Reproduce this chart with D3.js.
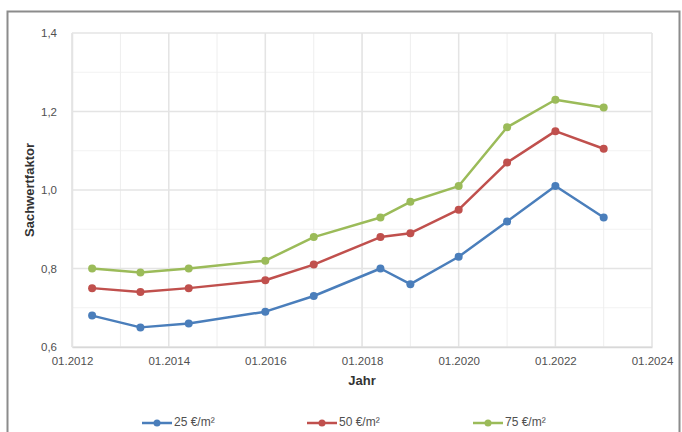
<!DOCTYPE html>
<html>
<head>
<meta charset="utf-8">
<script src="https://cdn.jsdelivr.net/npm/d3@7"></script>
<style>
  html, body { margin: 0; padding: 0; background: #fff; }
  svg { display: block; font-family: "Liberation Sans", Arial, sans-serif; }
</style>
</head>
<body>
<svg id="chart" width="682" height="432"></svg>
<script>
// Survey dates (stichtage) and Sachwertfaktoren per Bodenwertniveau
const dates = ["2012-06-01", "2013-06-01", "2014-06-01", "2016-01-01", "2017-01-01",
               "2018-05-20", "2019-01-01", "2020-01-01", "2021-01-01", "2022-01-01", "2023-01-01"];
const values25 = [0.68, 0.65, 0.66, 0.69, 0.73, 0.80, 0.76, 0.83, 0.92, 1.01, 0.93];
const values50 = [0.75, 0.74, 0.75, 0.77, 0.81, 0.88, 0.89, 0.95, 1.07, 1.15, 1.105];
const values75 = [0.80, 0.79, 0.80, 0.82, 0.88, 0.93, 0.97, 1.01, 1.16, 1.23, 1.21];
const seriesNames = ["25 €/m²", "50 €/m²", "75 €/m²"];
const seriesColors = ["#4a7ebb", "#c0504d", "#9bbb59"];
const yTicks = [0.6, 0.8, 1.0, 1.2, 1.4];

const parse = d3.timeParse("%Y-%m-%d");
const series = [values25, values50, values75].map((vals, i) => ({
  name: seriesNames[i],
  color: seriesColors[i],
  points: vals.map((v, j) => ({ date: parse(dates[j]), value: v }))
}));

const svg = d3.select("#chart");
const de = d3.formatLocale({ decimal: ",", thousands: ".", grouping: [3], currency: ["", " €"] });

const x = d3.scaleTime()
  .domain([new Date(2012, 0, 1), new Date(2024, 0, 1)])
  .range([72, 652]);
const y = d3.scaleLinear().domain([0.6, 1.4]).range([347, 33]);

// outer frame
svg.append("path")
  .attr("d", "M7.5,432 L7.5,11.5 L679.5,11.5 L679.5,432")
  .attr("fill", "none").attr("stroke", "#8c8c8c").attr("stroke-width", 2);

const grid = svg.append("g");
// minor gridlines
grid.selectAll("line.ymin")
  .data(d3.range(0.7, 1.4, 0.2))
  .join("line")
  .attr("x1", x.range()[0]).attr("x2", x.range()[1])
  .attr("y1", d => y(d)).attr("y2", d => y(d))
  .attr("stroke", "#f2f2f2").attr("stroke-width", 1);
grid.selectAll("line.xmin")
  .data(x.ticks(d3.timeYear.every(1)))
  .join("line")
  .attr("x1", d => x(d)).attr("x2", d => x(d))
  .attr("y1", y(1.4)).attr("y2", y(0.6))
  .attr("stroke", "#eeeeee").attr("stroke-width", 1);
// major gridlines
grid.selectAll("line.ymaj")
  .data(yTicks)
  .join("line")
  .attr("x1", x.range()[0]).attr("x2", x.range()[1])
  .attr("y1", d => y(d)).attr("y2", d => y(d))
  .attr("stroke", "#e4e4e4").attr("stroke-width", 1.5);
grid.selectAll("line.xmaj")
  .data(x.ticks(d3.timeYear.every(2)))
  .join("line")
  .attr("x1", d => x(d)).attr("x2", d => x(d))
  .attr("y1", y(1.4)).attr("y2", y(0.6))
  .attr("stroke", "#e4e4e4").attr("stroke-width", 1.5);

// axes
const xAxis = svg.append("g")
  .attr("transform", `translate(0,${y(0.6)})`)
  .call(d3.axisBottom(x).ticks(d3.timeYear.every(2)).tickFormat(d3.timeFormat("%m.%Y")).tickSize(0).tickPadding(10));
xAxis.select(".domain").attr("stroke", "#d8d8d8").attr("stroke-width", 1.5);
xAxis.selectAll("text").attr("font-size", 11.5).attr("fill", "#505050");

const yAxis = svg.append("g")
  .attr("transform", `translate(${x.range()[0]},0)`)
  .call(d3.axisLeft(y).tickValues(yTicks).tickFormat(de.format(".1f")).tickSize(0).tickPadding(15));
yAxis.select(".domain").attr("stroke", "#e4e4e4").attr("stroke-width", 1.5);
yAxis.selectAll("text").attr("font-size", 11.5).attr("fill", "#505050");

// axis titles
svg.append("text")
  .attr("transform", `translate(31,${(y(1.4) + y(0.6)) / 2}) rotate(-90)`)
  .attr("text-anchor", "middle").attr("dominant-baseline", "middle")
  .attr("font-size", 13).attr("font-weight", "bold").attr("fill", "#333")
  .text("Sachwertfaktor");
svg.append("text")
  .attr("x", (x.range()[0] + x.range()[1]) / 2).attr("y", 382)
  .attr("text-anchor", "middle").attr("dominant-baseline", "middle")
  .attr("font-size", 13).attr("font-weight", "bold").attr("fill", "#333")
  .text("Jahr");

// lines and markers
const line = d3.line().x(d => x(d.date)).y(d => y(d.value));
const sg = svg.append("g").selectAll("g").data(series).join("g");
sg.append("path")
  .attr("d", d => line(d.points))
  .attr("fill", "none").attr("stroke", d => d.color)
  .attr("stroke-width", 2.5).attr("stroke-linejoin", "round");
sg.selectAll("circle")
  .data(d => d.points.map(p => ({ ...p, color: d.color })))
  .join("circle")
  .attr("cx", d => x(d.date)).attr("cy", d => y(d.value))
  .attr("r", 4).attr("fill", d => d.color);

// legend
const legendX = [142, 307, 473];
const lg = svg.append("g").selectAll("g").data(series).join("g")
  .attr("transform", (d, i) => `translate(${legendX[i]},423)`);
lg.append("line")
  .attr("x1", 0).attr("x2", 30).attr("y1", 0).attr("y2", 0)
  .attr("stroke", d => d.color).attr("stroke-width", 2.5);
lg.append("circle").attr("cx", 15).attr("cy", 0).attr("r", 3.5).attr("fill", d => d.color);
lg.append("text")
  .attr("x", 32).attr("y", 0).attr("dominant-baseline", "middle")
  .attr("font-size", 12).attr("fill", "#505050")
  .text(d => d.name);
</script>
</body>
</html>
